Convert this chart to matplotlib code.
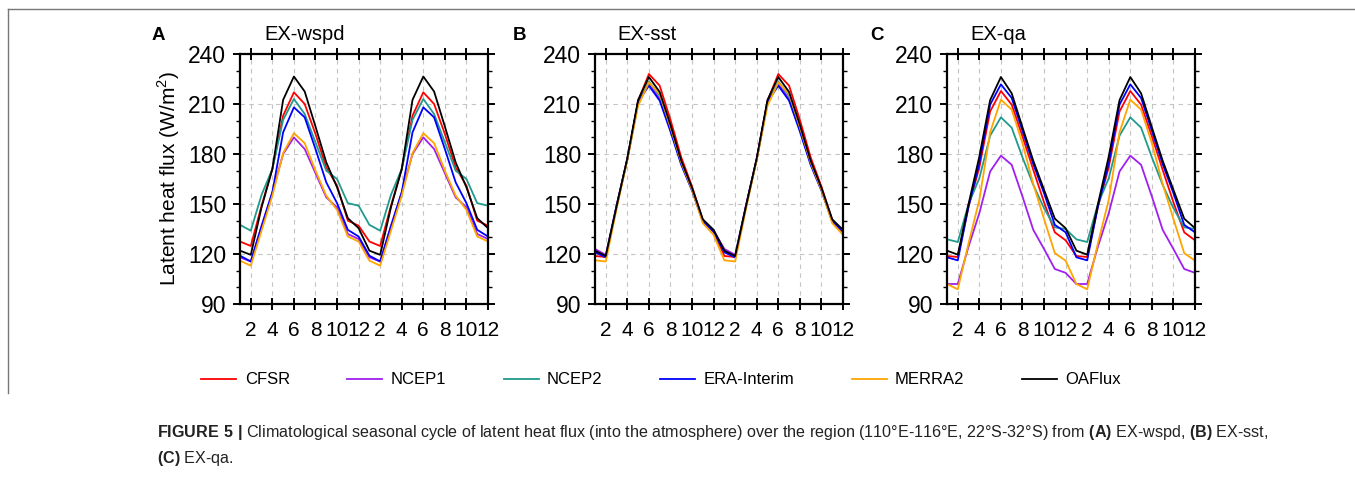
import numpy as np
import matplotlib
matplotlib.use("Agg")
import matplotlib.pyplot as plt
from matplotlib.lines import Line2D

plt.rcParams['font.family'] = ['Liberation Sans', 'DejaVu Sans']
plt.rcParams['mathtext.fontset'] = 'custom'
plt.rcParams['mathtext.rm'] = 'Liberation Sans'
plt.rcParams['mathtext.bf'] = 'Liberation Sans:bold'

# climatological months (one cycle), drawn twice
months = np.arange(1, 25)
tick_months = np.arange(2, 25, 2)
tick_labels = ['2', '4', '6', '8', '10', '12', '2', '4', '6', '8', '10', '12']

datasets = ['CFSR', 'NCEP1', 'NCEP2', 'ERA-Interim', 'MERRA2', 'OAFlux']
colors = ['#ff0000', '#a020f0', '#1f9a8c', '#0000ff', '#ffa500', '#000000']

# EX-wspd (W/m2), Jan..Dec
wspd_cfsr = [127.5, 124.8, 149, 171, 203, 217, 210, 192, 172, 161, 140, 137]
wspd_ncep1 = [118, 115.5, 137, 157, 180, 190, 183, 168.5, 154, 148, 132, 129]
wspd_ncep2 = [137.5, 134, 155.5, 171, 200.5, 213, 204, 187, 170, 165, 150.5, 149]
wspd_era = [119, 115.5, 136.5, 157, 193, 208, 202, 183, 163, 150.5, 134.5, 130.5]
wspd_merra2 = [116, 113, 134, 155, 180.5, 192.5, 186.5, 170, 155, 146.5, 130.5, 127.5]
wspd_oaflux = [122, 119.5, 148, 171, 212.5, 226.5, 217.5, 196.5, 175, 160, 141.5, 135.5]

# EX-sst
sst_cfsr = [118.8, 118.2, 149, 177, 212, 228, 221, 200.5, 178, 160.5, 140.5, 133]
sst_ncep1 = [123, 119.5, 149, 177, 211, 222, 213, 195, 174.5, 158.5, 140, 134]
sst_ncep2 = [121.5, 118.5, 148.5, 177, 210.5, 223.5, 215, 196, 175, 159, 140, 134]
sst_era = [121, 118, 148.5, 177, 211.5, 221, 212, 193.5, 173.5, 158, 139.5, 133.5]
sst_merra2 = [116.2, 115.5, 147, 176.5, 209, 223, 216, 196, 175, 158.5, 138.5, 131.5]
sst_oaflux = [122, 118.8, 148.5, 177.5, 212.5, 226.2, 217.2, 197.5, 176, 159.7, 140.8, 134.5]

# EX-qa
qa_cfsr = [118.8, 118.2, 148.5, 172, 205.5, 217.8, 209.6, 190.6, 170.5, 151, 133, 128.2]
qa_ncep1 = [102, 102, 124.5, 144.5, 169.5, 179, 173.5, 154.5, 134.5, 123, 111, 108.7]
qa_ncep2 = [128.8, 127.2, 150, 165.5, 191, 202, 195.8, 178, 161.5, 147.5, 136, 135]
qa_era = [118, 116.2, 148.5, 174.5, 209.6, 221.8, 213.6, 194, 174, 156.5, 137.5, 133]
qa_merra2 = [102, 98.8, 126.5, 152.5, 193, 212.6, 206.6, 186.5, 162, 141, 120.5, 116]
qa_oaflux = [122, 119.6, 150, 178.5, 212.3, 226.2, 216.4, 196, 176, 158.5, 141.2, 135.5]

panels = [
    ('A', 'EX-wspd', [wspd_cfsr, wspd_ncep1, wspd_ncep2, wspd_era, wspd_merra2, wspd_oaflux]),
    ('B', 'EX-sst', [sst_cfsr, sst_ncep1, sst_ncep2, sst_era, sst_merra2, sst_oaflux]),
    ('C', 'EX-qa', [qa_cfsr, qa_ncep1, qa_ncep2, qa_era, qa_merra2, qa_oaflux]),
]

W, H = 1355, 480
fig = plt.figure(figsize=(W / 100, H / 100), dpi=100)

ax_left = [240, 595, 947]      # pixel positions of the panels
letter_x = [158, 519, 877]
title_x = [264, 617, 970]
ax_w, ax_top, ax_bot = 248, 54, 304

for i, (letter, title, series) in enumerate(panels):
    ax = fig.add_axes([ax_left[i] / W, 1 - ax_bot / H, ax_w / W, (ax_bot - ax_top) / H])
    for vals, c, name in zip(series, colors, datasets):
        ax.plot(months, np.concatenate([vals, vals]), color=c, lw=1.3, label=name)

    ax.set_xlim(1, 24)
    ax.set_ylim(90, 240)
    ax.set_xticks(tick_months)
    ax.set_xticklabels(tick_labels)
    ax.set_yticks(np.arange(90, 241, 30))
    ax.set_yticks(np.arange(90, 241, 10), minor=True)

    for m in tick_months[:-1]:
        ax.axvline(m, color='#c4c4c4', lw=0.8, ls=(0, (4, 4)), zorder=0)
    for v in [120, 150, 180, 210]:
        ax.axhline(v, color='#c4c4c4', lw=0.8, ls=(0, (4, 4)), zorder=0)

    for s in ax.spines.values():
        s.set_linewidth(1.6)
    ax.tick_params(axis='both', which='major', direction='out', length=5, width=1.4,
                   top=True, right=True)
    ax.tick_params(axis='y', labelsize=16.5, pad=5)
    ax.tick_params(axis='x', which='major', direction='inout', length=8, labelsize=15, pad=8)
    ax.tick_params(axis='y', which='minor', direction='out', length=3, width=1.0,
                   left=True, right=True)

    if i == 0:
        ax.set_ylabel('Latent heat flux (W/m$^2$)', fontsize=15)
        ax.yaxis.set_label_coords(-0.235, 0.5)

    fig.text(letter_x[i] / W, 1 - 35 / H, letter, fontsize=13.5, weight='bold',
             ha='center', va='center')
    fig.text(title_x[i] / W, 1 - 35 / H, title, fontsize=14.5, ha='left', va='center')

    if i == 0:
        handles, labels = ax.get_legend_handles_labels()

fig.legend(handles, labels, loc='center', bbox_to_anchor=(0.488, 1 - 380 / H), ncol=6,
           frameon=False, fontsize=12, handlelength=2.1, handletextpad=0.5,
           columnspacing=3.45)

# figure frame (left and top edges)
fig.add_artist(Line2D([8 / W, 8 / W], [1 - 393 / H, 1 - 9 / H], color='#777777', lw=1))
fig.add_artist(Line2D([8 / W, 1], [1 - 9 / H, 1 - 9 / H], color='#777777', lw=1))

cap1 = (r'$\mathbf{FIGURE\ 5\ |}$ Climatological seasonal cycle of latent heat flux (into the '
        r'atmosphere) over the region (110°E-116°E, 22°S-32°S) from $\mathbf{(A)}$ EX-wspd, '
        r'$\mathbf{(B)}$ EX-sst,')
cap2 = r'$\mathbf{(C)}$ EX-qa.'
fig.text(157 / W, 1 - 433 / H, cap1, fontsize=11.6, ha='left', va='center', color='#222222')
fig.text(157 / W, 1 - 458 / H, cap2, fontsize=11.6, ha='left', va='center', color='#222222')

fig.savefig('out.png', dpi=100)
